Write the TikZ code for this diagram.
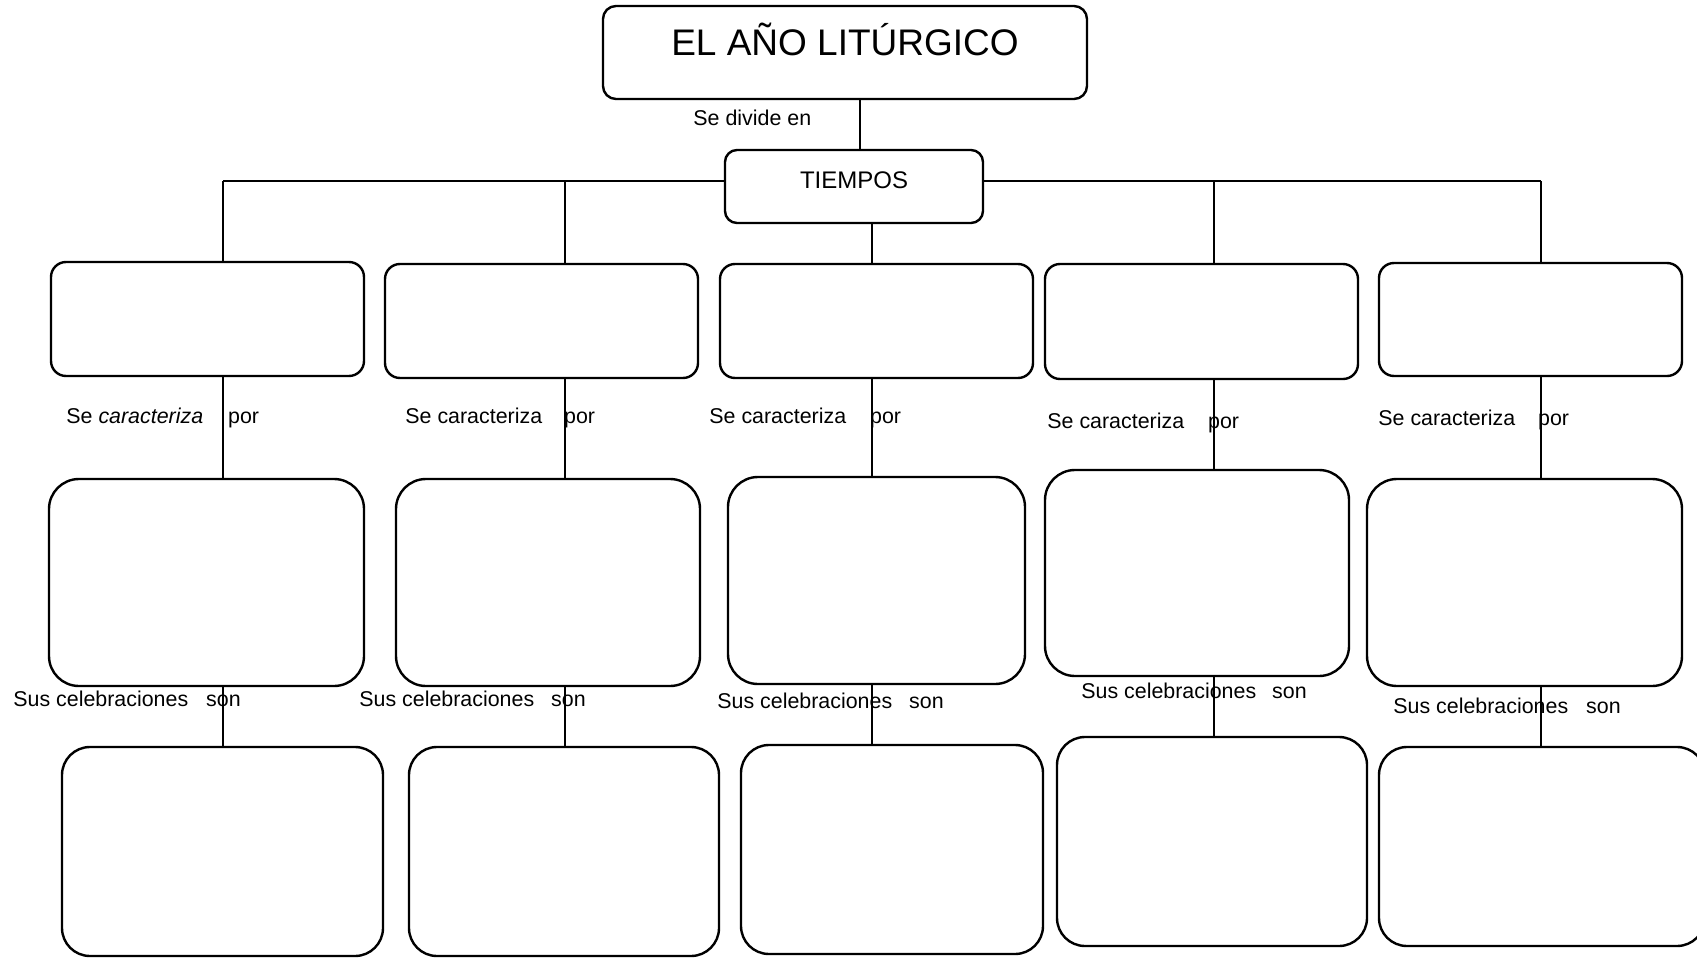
\documentclass[tikz,border=0pt]{standalone}
\usepackage{fontspec}
\setmainfont{Liberation Sans}
\usepackage{tikz}
\usetikzlibrary{positioning}

\begin{document}
\begin{tikzpicture}[x=0.5pt,y=-0.5pt,
    box node/.style={rectangle,draw,line width=1.2pt,inner sep=0pt},
    top node/.style={box node,rounded corners=6.5pt},
    row one/.style={box node,rounded corners=7.5pt,minimum width=156.5pt,minimum height=57pt},
    row two/.style={box node,rounded corners=15pt,minimum height=103.5pt},
    row three/.style={box node,rounded corners=14pt,minimum height=104.5pt},
    text node/.style={anchor=base west,inner sep=0pt,font=\fontsize{10.7}{12}\selectfont},
    line/.style={line width=0.8pt}]

  \useasboundingbox (0,0) rectangle (1697,958);

  % title and TIEMPOS
  \node[top node,minimum width=242pt,minimum height=46.5pt] (anio) at (845,52.5) {};
  \node[anchor=base,inner sep=0pt,font=\fontsize{18.5}{22}\selectfont] (aniotxt) at (845,55) {EL AÑO LITÚRGICO};
  \node[top node,rounded corners=6pt,minimum width=129pt,minimum height=36.5pt] (tiempos) at (854,186.5) {};
  \node[anchor=base,inner sep=0pt,font=\fontsize{12}{14}\selectfont] (tiempostxt) at (854,188) {TIEMPOS};
  \node[text node] (divide) at (693,125) {Se divide en};

  % first row
  \node[row one] (a1) at (207.5,319) {};
  \node[row one] (a2) at (541.5,321) {};
  \node[row one] (a3) at (876.5,321) {};
  \node[row one,minimum height=57.5pt] (a4) at (1201.5,321.5) {};
  \node[row one,minimum width=151.5pt,minimum height=56.5pt] (a5) at (1530.5,319.5) {};

  % second row
  \node[row two,minimum width=157.5pt] (b1) at (206.5,582.5) {};
  \node[row two,minimum width=152pt] (b2) at (548,582.5) {};
  \node[row two,minimum width=148.5pt] (b3) at (876.5,580.5) {};
  \node[row two,minimum width=152pt,minimum height=103pt] (b4) at (1197,573) {};
  \node[row two,minimum width=157.5pt] (b5) at (1524.5,582.5) {};

  % third row
  \node[row three,minimum width=160.5pt] (c1) at (222.5,851.5) {};
  \node[row three,minimum width=155pt] (c2) at (564,851.5) {};
  \node[row three,minimum width=151pt] (c3) at (892,849.5) {};
  \node[row three,minimum width=155pt] (c4) at (1212,841.5) {};
  \node[row three,minimum width=163pt,minimum height=99.5pt] (c5) at (1542,846.5) {};

  % labels
  \node[text node] (por1) at (66,423) {Se \textit{caracteriza}\hspace{12.5pt}por};
  \node[text node] (por2) at (405,423) {Se caracteriza\hspace{11pt}por};
  \node[text node] (por3) at (709,423) {Se caracteriza\hspace{12pt}por};
  \node[text node] (por4) at (1047,428) {Se caracteriza\hspace{12pt}por};
  \node[text node] (por5) at (1378,425) {Se caracteriza\hspace{11.5pt}por};

  \node[text node] (son1) at (13,706) {Sus celebraciones\hspace{9pt}son};
  \node[text node] (son2) at (359,706) {Sus celebraciones\hspace{8.5pt}son};
  \node[text node] (son3) at (717,708) {Sus celebraciones\hspace{8.5pt}son};
  \node[text node] (son4) at (1081,698) {Sus celebraciones\hspace{8pt}son};
  \node[text node] (son5) at (1393,713) {Sus celebraciones\hspace{9pt}son};

  % connectors
  \coordinate (k) at (860,120);
  \coordinate (j1) at (223,181);
  \coordinate (j2) at (565,181);
  \coordinate (j3) at (872,181);
  \coordinate (j4) at (1214,181);
  \coordinate (j5) at (1541,181);

  \path[line]
    (anio.south -| k) edge (k |- tiempos.north)
    (j1) edge (j1 -| tiempos.west)
    (j5) edge (j5 -| tiempos.east)
    (j1) edge (j1 |- a1.north)
    (j2) edge (j2 |- a2.north)
    (j3 |- tiempos.south) edge (j3 |- a3.north)
    (j4) edge (j4 |- a4.north)
    (j5) edge (j5 |- a5.north)
    (j1 |- a1.south) edge (j1 |- b1.north)
    (j2 |- a2.south) edge (j2 |- b2.north)
    (j3 |- a3.south) edge (j3 |- b3.north)
    (j4 |- a4.south) edge (j4 |- b4.north)
    (j5 |- a5.south) edge (j5 |- b5.north)
    (j1 |- b1.south) edge (j1 |- c1.north)
    (j2 |- b2.south) edge (j2 |- c2.north)
    (j3 |- b3.south) edge (j3 |- c3.north)
    (j4 |- b4.south) edge (j4 |- c4.north)
    (j5 |- b5.south) edge (j5 |- c5.north);

\end{tikzpicture}
\end{document}
